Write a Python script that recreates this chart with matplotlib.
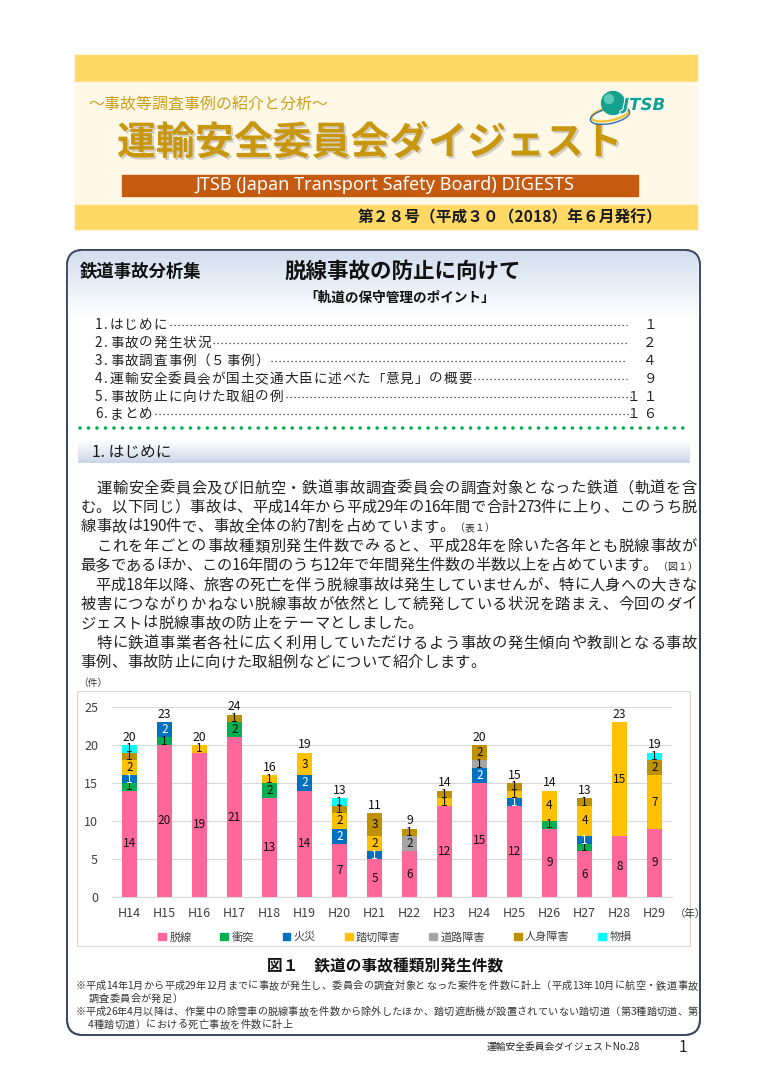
import matplotlib
matplotlib.use('Agg')
import matplotlib.pyplot as plt
from matplotlib.patches import Rectangle, FancyBboxPatch, Circle, Ellipse, Patch
import matplotlib.patheffects as pe
import numpy as np

plt.rcParams['font.family'] = ['Noto Sans CJK JP', 'DejaVu Sans']

# chart data (件数)
years = ['H14', 'H15', 'H16', 'H17', 'H18', 'H19', 'H20', 'H21',
         'H22', 'H23', 'H24', 'H25', 'H26', 'H27', 'H28', 'H29']
derail = [14, 20, 19, 21, 13, 14, 7, 5, 6, 12, 15, 12, 9, 6, 8, 9]
collision = [1, 1, 0, 2, 2, 0, 0, 0, 0, 0, 0, 0, 1, 1, 0, 0]
fire = [1, 2, 0, 0, 0, 2, 2, 1, 0, 0, 2, 1, 0, 1, 0, 0]
crossing = [2, 0, 1, 0, 1, 3, 2, 2, 0, 1, 0, 1, 4, 4, 15, 7]
road = [0, 0, 0, 0, 0, 0, 0, 0, 2, 0, 1, 0, 0, 0, 0, 0]
injury = [1, 0, 0, 1, 0, 0, 1, 3, 1, 1, 2, 1, 0, 1, 0, 2]
damage = [1, 0, 0, 0, 0, 0, 1, 0, 0, 0, 0, 0, 0, 0, 0, 1]

series_names = ['脱線', '衝突', '火災', '踏切障害', '道路障害', '人身障害', '物損']
series_colors = ['#FF6699', '#00B050', '#0070C0', '#FFC000', '#A5A5A5', '#BF9000', '#00FFFF']
series_values = [derail, collision, fire, crossing, road, injury, damage]

toc_titles = ['1.はじめに', '2.事故の発生状況', '3.事故調査事例（５事例）',
              '4.運輸安全委員会が国土交通大臣に述べた「意見」の概要',
              '5.事故防止に向けた取組の例', '6.まとめ']
toc_pages = ['１', '２', '４', '９', '１ １', '１ ６']

body_lines = [
    ('　運輸安全委員会及び旧航空・鉄道事故調査委員会の調査対象となった鉄道（軌道を含', True, ''),
    ('む。以下同じ）事故は、平成14年から平成29年の16年間で合計273件に上り、このうち脱', True, ''),
    ('線事故は190件で、事故全体の約7割を占めています。', False, '（表１）'),
    ('　これを年ごとの事故種類別発生件数でみると、平成28年を除いた各年とも脱線事故が', True, ''),
    ('最多であるほか、この16年間のうち12年で年間発生件数の半数以上を占めています。', True, '（図１）'),
    ('　平成18年以降、旅客の死亡を伴う脱線事故は発生していませんが、特に人身への大きな', True, ''),
    ('被害につながりかねない脱線事故が依然として続発している状況を踏まえ、今回のダイ', True, ''),
    ('ジェストは脱線事故の防止をテーマとしました。', False, ''),
    ('　特に鉄道事業者各社に広く利用していただけるよう事故の発生傾向や教訓となる事故', True, ''),
    ('事例、事故防止に向けた取組例などについて紹介します。', False, ''),
]

notes = [
    (75, '※平成14年1月から平成29年12月までに事故が発生し、委員会の調査対象となった案件を件数に計上（平成13年10月に航空・鉄道事故', True),
    (88, '調査委員会が発足）', False),
    (75, '※平成26年4月以降は、作業中の除雪車の脱線事故を件数から除外したほか、踏切遮断機が設置されていない踏切道（第3種踏切道、第', True),
    (88, '4種踏切道）における死亡事故を件数に計上', False),
]

fig = plt.figure(figsize=(7.7, 10.8), dpi=100)
page = fig.add_axes([0, 0, 1, 1])
page.axis('off')


def px_axes(x0, y0, x1, y1):
    # pixel box (top-left origin) -> figure fraction
    return [x0 / 770, 1 - y1 / 1080, (x1 - x0) / 770, (y1 - y0) / 1080]


def put_chars(x0, y, text, size, step, right=None, small='', color='#222222', weight='normal'):
    # lay out characters one by one so lines can be justified like the print layout
    cells = [(ch, 0.5 if ord(ch) < 128 else 1.0, 1.0) for ch in text]
    cells += [(ch, (0.5 if ord(ch) < 128 else 1.0) * 0.65, 0.65) for ch in small]
    total = sum(c[1] for c in cells)
    if right is not None:
        step = (right - x0) / total
    x = x0
    base = y + size * 1.389 * 0.36
    for ch, a, k in cells:
        if ch not in '　 ':
            page.text(x + a * step / 2, base, ch, ha='center', va='baseline',
                      fontsize=size * k, color=color, fontweight=weight)
        x += a * step
    return x


def vgrad(x0, x1, y0, y1, c_top, c_bot, clip=None, z=1):
    t = np.linspace(0, 1, 64)[:, None, None]
    a = np.array(matplotlib.colors.to_rgb(c_top))
    b = np.array(matplotlib.colors.to_rgb(c_bot))
    img = a * (1 - t) + b * t
    im = page.imshow(img, extent=(x0, x1, y1, y0), aspect='auto', zorder=z, interpolation='bilinear')
    if clip is not None:
        im.set_clip_path(clip)
    return im


# ---------- masthead ----------
page.add_patch(Rectangle((75, 55), 622, 27, color='#FFD966', zorder=1))
page.add_patch(Rectangle((75, 82), 622, 123, color='#FFF8E6', zorder=1))
page.add_patch(Rectangle((75, 205), 622, 24, color='#FFD966', zorder=1))

page.text(88, 105, '～事故等調査事例の紹介と分析～', fontsize=11.5, color='#C9A01E', va='center', zorder=3)
page.text(117, 143, '運輸安全委員会ダイジェスト', fontsize=28, color='#C9970E', fontweight='bold',
          va='center', zorder=3,
          path_effects=[pe.SimplePatchShadow(offset=(1.5, -1.5), shadow_rgbFace='#9A9A9A', alpha=0.45), pe.Normal()])

# JTSB logo
page.add_patch(Ellipse((610, 114), 38, 13, angle=-12, fill=False, ec='#F2C230', lw=1.6, zorder=3))
page.add_patch(Ellipse((610, 116), 40, 15, angle=-12, fill=False, ec='#2F6DB5', lw=1.0, zorder=3))
page.add_patch(Circle((613, 103), 11.5, color='#15A08F', zorder=4))
page.add_patch(Circle((609, 99), 4.5, color='#5CC8B8', zorder=4))
page.text(644, 105, 'JTSB', fontsize=12, color='#14A08E', fontstyle='italic', fontweight='bold',
          ha='center', va='center', zorder=5, family='DejaVu Sans',
          path_effects=[pe.withStroke(linewidth=1.5, foreground='white')])

page.add_patch(Rectangle((122, 175), 516, 21, color='#C55A11', zorder=2))
page.text(385, 185.5, 'JTSB (Japan Transport Safety Board) DIGESTS', fontsize=13, color='white',
          ha='center', va='center', zorder=3, family='Noto Sans')
page.text(662, 217, '第２８号（平成３０（2018）年６月発行）', fontsize=11.3, fontweight='bold',
          color='#1A1A1A', ha='right', va='center', zorder=3)

# ---------- framed article box ----------
box = FancyBboxPatch((67, 250), 633, 785, boxstyle='round,pad=0,rounding_size=16',
                     fc='white', ec='#3A4866', lw=1.3, zorder=1)
page.add_patch(box)
vgrad(67, 700, 250, 318, '#D2DEEE', '#FFFFFF', clip=box, z=1.5)
page.add_patch(FancyBboxPatch((67, 250), 633, 785, boxstyle='round,pad=0,rounding_size=16',
                              fc='none', ec='#3A4866', lw=1.3, zorder=2))

page.text(80, 272, '鉄道事故分析集', fontsize=12.5, fontweight='bold', color='#111111', va='center', zorder=3)
page.text(284, 271, '脱線事故の防止に向けて', fontsize=15.5, fontweight='bold', color='#111111', va='center', zorder=3)
page.text(400, 298, '「軌道の保守管理のポイント」', fontsize=9.8, fontweight='bold', color='#111111',
          ha='center', va='center', zorder=3)

toc_y = [324, 342, 360, 378, 396, 413]
for i, (title, pg) in enumerate(zip(toc_titles, toc_pages)):
    y = toc_y[i]
    xe = put_chars(95, y, title, 9.8, 14.5)
    lead_end = 632 if len(pg) > 1 else 627
    page.plot([xe + 2, lead_end], [y + 1, y + 1], ls=(0, (1, 2.2)), lw=0.9, color='#333333', zorder=3)
    page.text(657, y + 1, pg, fontsize=9.8, ha='right', va='center', color='#222222', zorder=3)

page.plot([80, 690], [428, 428], ls=(0, (0.001, 2.35)), lw=2.6, color='#00B050',
          dash_capstyle='round', zorder=3)

# section heading
vgrad(78, 690, 440, 463, '#FFFFFF', '#C9D6E8', z=1.6)
page.text(92, 452, '1. はじめに', fontsize=11.3, color='#1A1A1A', va='center', zorder=3)

for i, (txt, just, small) in enumerate(body_lines):
    put_chars(80, 487 + i * 19.4, txt, 11, 15.6, right=697 if just else None, small=small)

page.text(78, 683, '（件）', fontsize=7, color='#333333', va='center', zorder=3)
page.add_patch(Rectangle((77, 691), 613, 255, fc='white', ec='#D9D9D9', lw=0.8, zorder=2))
page.text(675, 914, '（年）', fontsize=7.5, color='#333333', va='center', zorder=3)

page.text(385, 966, '図１　鉄道の事故種類別発生件数', fontsize=11.3, fontweight='bold', color='#111111',
          ha='center', va='center', zorder=3)
note_y = [985, 998, 1011, 1024]
for (x0, txt, just), y in zip(notes, note_y):
    put_chars(x0, y, txt, 7.3, 10.5, right=698 if just else None, color='#333333')

page.text(640, 1047, '運輸安全委員会ダイジェストNo.28', fontsize=7, color='#222222', ha='right', va='center')
page.text(683, 1047, '1', fontsize=11, color='#222222', ha='center', va='center')

page.set_xlim(0, 770)
page.set_ylim(1080, 0)

# ---------- chart ----------
ax = fig.add_axes(px_axes(112, 707, 672, 897))
ax.patch.set_alpha(0)
x = np.arange(len(years))
bottom = np.zeros(len(years))
for name, col, vals in zip(series_names, series_colors, series_values):
    vals = np.array(vals)
    ax.bar(x, vals, 0.42, bottom=bottom, color=col, label=name, zorder=3)
    for xi, v, b in zip(x, vals, bottom):
        if v > 0:
            ax.text(xi, b + v / 2, str(v), ha='center', va='center', fontsize=8.5,
                    color='white' if col == '#0070C0' else '#111111', zorder=4)
    bottom += vals
for xi, tot in zip(x, bottom):
    ax.annotate(str(int(tot)), (xi, tot), xytext=(0, 1), textcoords='offset points',
                ha='center', va='bottom', fontsize=8.8, color='#111111')

ax.set_xlim(-0.5, len(years) - 0.5)
ax.set_ylim(0, 25)
ax.set_yticks([0, 5, 10, 15, 20, 25])
ax.set_xticks(x)
ax.set_xticklabels(years)
ax.yaxis.grid(True, color='#D9D9D9', lw=0.8, zorder=0)
for s in ['top', 'right', 'left']:
    ax.spines[s].set_visible(False)
ax.spines['bottom'].set_color('#D9D9D9')
ax.tick_params(axis='both', length=0, labelsize=9, labelcolor='#404040')
ax.tick_params(axis='y', pad=10)
ax.tick_params(axis='x', pad=7)

handles = [Patch(color=c, label=n) for n, c in zip(series_names, series_colors)]
fig.legend(handles=handles, loc='center', bbox_to_anchor=(395 / 770, 1 - 937 / 1080), ncol=7,
           frameon=False, fontsize=8, handlelength=0.7, handleheight=0.7, handletextpad=0.3,
           columnspacing=2.6, labelcolor='#404040')

fig.savefig('out.png', dpi=100)
